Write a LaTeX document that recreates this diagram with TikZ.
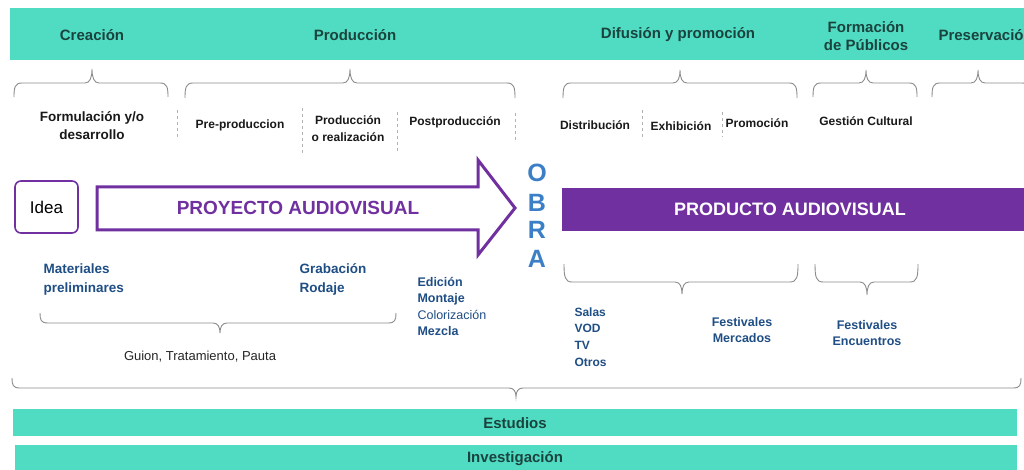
\documentclass[tikz,border=0pt]{standalone}
\usepackage{fontspec}
\setmainfont{Liberation Sans}
\definecolor{teal1}{HTML}{50DCC3}
\definecolor{hdr}{HTML}{1B433E}
\definecolor{purp}{HTML}{7030A0}
\definecolor{dblue}{HTML}{1F4E85}
\definecolor{obra}{HTML}{3B7FC6}
\definecolor{brc}{HTML}{8C8C8C}
\newcommand\fs[2]{\fontsize{#1}{#2}\selectfont}
% x1 x2 xm lineY tipY endY
\newcommand\mybrace[6]{%
  \draw[bracestyle] (#1,#6) .. controls (#1,{#4+0.3*(#6-#4)}) and (#1+1,#4) .. (#1+8,#4)
    -- (#3-7,#4) .. controls (#3-2,#4) and (#3,{0.6*#4+0.4*#5}) .. (#3,#5)
    .. controls (#3,{0.6*#4+0.4*#5}) and (#3+2,#4) .. (#3+7,#4)
    -- (#2-8,#4) .. controls (#2-1,#4) and (#2,{#4+0.3*(#6-#4)}) .. (#2,#6);}
\begin{document}
\begin{tikzpicture}[x=1pt,y=-1pt,
  bracestyle/.style={draw=brc,line width=0.9pt},
  sep/.style={draw=gray!60,dashed,dash pattern=on 3pt off 3pt,line width=0.7pt},
  hdrtxt/.style={text=hdr,font=\bfseries\fs{15}{18},align=center},
  subtxt/.style={text=black!90,font=\bfseries\fs{12}{17},align=center},
  bluetxt/.style={text=dblue,font=\bfseries\fs{13.5}{19},align=left},
  bluesm/.style={text=dblue,font=\bfseries\fs{12.5}{16.5},align=left},
  bar/.style={fill=teal1,draw=none},
  obraltr/.style={text=obra,font=\bfseries\fs{25}{25}}]
\useasboundingbox (0,0) rectangle (1024,470);
\fill[white] (0,0) rectangle (1024,470);
% top band
\fill[teal1] (10,8) rectangle (1024,60);
\node[hdrtxt] (creacion) at (92,35) {Creación};
\node[hdrtxt] (produccion) at (355,35) {Producción};
\node[hdrtxt] (difusion) at (678,35) {Difusión y promoción};
\node[hdrtxt] (formacion) at (866,36) {Formación\\de Públicos};
\node[hdrtxt,anchor=west] (preserv) at (935,35) {Preservación};
% upper braces
\mybrace{14}{168}{92}{83}{69}{97}
\mybrace{185}{515}{350}{83}{69}{98}
\mybrace{563}{797}{680}{83}{70}{98}
\mybrace{813}{917}{866}{83}{70}{97}
\mybrace{932}{1030}{978}{83}{70}{97}
% sub labels
\node[subtxt,font=\bfseries\fs{13.5}{18}] (formul) at (92,126) {Formulación y/o\\desarrollo};
\node[subtxt] (preprod) at (240,125) {Pre-produccion};
\node[subtxt] (prodreal) at (348,128.5) {Producción\\o realización};
\node[subtxt] (postprod) at (455,122) {Postproducción};
\node[subtxt] (distrib) at (595,125) {Distribución};
\node[subtxt] (exhib) at (681,126) {Exhibición};
\node[subtxt] (promo) at (757,123) {Promoción};
\node[subtxt,font=\bfseries\fs{12}{14}] (gestion) at (866,121) {Gestión Cultural};
% dashed separators
\draw[sep] (177,110) -- (177,138);
\draw[sep] (302,108) -- (302,153);
\draw[sep] (397,112) -- (397,153);
\draw[sep] (515,113) -- (515,140);
\draw[sep] (642,110) -- (642,137);
\draw[sep] (722,112) -- (722,137);
% idea box
\node[draw=purp,line width=1.6pt,rounded corners=6pt,minimum width=63pt,minimum height=52pt,
  font=\fs{17}{20}] (idea) at (46.5,207) {Idea};
% big arrow
\draw[draw=purp,fill=white,line width=3pt,line join=miter]
  (97,187) -- (478,187) -- (478,160) -- (515,208) -- (478,255) -- (478,230) -- (97,230) -- cycle;
\node[text=purp,font=\bfseries\fs{19}{22}] (proyecto) at (298,208) {PROYECTO AUDIOVISUAL};
% OBRA
\node[obraltr] (o) at (537,173) {O};
\node[obraltr] (b) at (537,203) {B};
\node[obraltr] (r) at (537,230) {R};
\node[obraltr] (a) at (537,259) {A};
% product bar
\fill[purp] (562,188) rectangle (1024,231);
\node[text=white,font=\bfseries\fs{18}{21}] (producto) at (790,209) {PRODUCTO AUDIOVISUAL};
% lower left labels
\node[bluetxt,anchor=west] (materiales) at (40,280) {Materiales\\preliminares};
\node[bluetxt,anchor=west] (grabacion) at (296,279.5) {Grabación\\Rodaje};
\node[bluesm,anchor=west] (edicion) at (414,306.5) {Edición\\Montaje\\{\mdseries Colorización}\\Mezcla};
\mybrace{40}{396}{220}{323}{333}{313}
\node[font=\fs{13}{16},text=black!85] (guion) at (200,357) {Guion, Tratamiento, Pauta};
% lower right
\mybrace{564}{798}{682}{282}{294}{264}
\mybrace{815}{918}{867}{282}{295}{264}
\node[bluesm,font=\bfseries\fs{12}{16.7},anchor=west] (salas) at (571,337) {Salas\\VOD\\TV\\Otros};
\node[bluesm,align=center,font=\bfseries\fs{12.5}{16}] (festmerc) at (742,330) {Festivales\\Mercados};
\node[bluesm,align=center,font=\bfseries\fs{12.5}{16}] (festenc) at (867,333) {Festivales\\Encuentros};
% big bottom brace
\mybrace{12}{1021}{516}{388}{397}{378}
% bottom bars
\fill[teal1] (13,409) rectangle (1017,436);
\node[hdrtxt] (estudios) at (515,423) {Estudios};
\fill[teal1] (15,445) rectangle (1017,470);
\node[hdrtxt] (invest) at (515,459) {Investigación};
\end{tikzpicture}
\end{document}
